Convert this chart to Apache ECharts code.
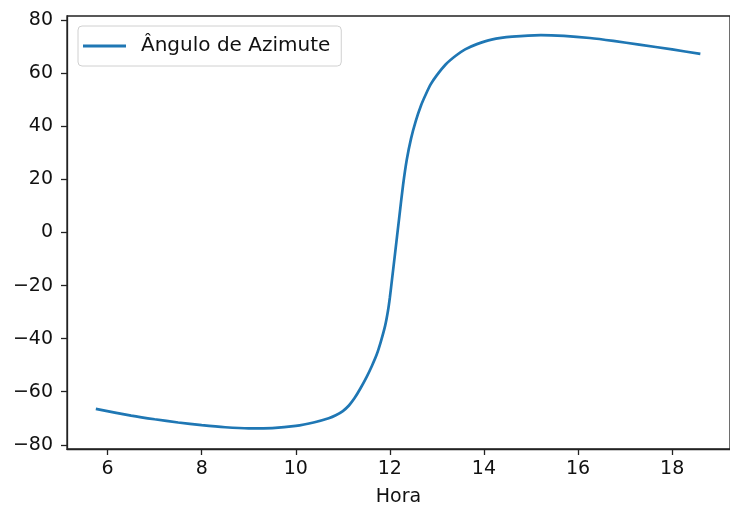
<!DOCTYPE html>
<html>
<head>
<meta charset="utf-8">
<script src="https://cdn.jsdelivr.net/npm/echarts@6/dist/echarts.min.js"></script>
<style>html,body{margin:0;padding:0;background:#fff}#c{width:730px;height:512px}</style>
</head>
<body>
<div id="c"></div>
<script>
const hours = [5.75, 6.5, 7.0, 7.5, 8.0, 8.5, 9.0, 9.5, 10.0, 10.4, 10.7, 10.85, 11.0, 11.13, 11.25, 11.37, 11.51, 11.62, 11.72, 11.81, 11.9, 11.96, 12.0, 12.05, 12.105, 12.2, 12.28, 12.36, 12.45, 12.55, 12.66, 12.77, 12.87, 13.0, 13.19, 13.4, 13.6, 13.85, 14.16, 14.6, 15.21, 15.7, 16.25, 16.75, 17.3, 18.0, 18.6];
const azimuth = [-66.5, -69.0, -70.4, -71.6, -72.6, -73.4, -73.8, -73.7, -72.9, -71.5, -70.0, -68.9, -67.3, -65.2, -62.4, -58.9, -54.3, -50.2, -46.0, -41.0, -35.1, -29.5, -24.5, -17.0, -8.7, 5.8, 17.8, 27.5, 35.4, 42.0, 47.8, 52.3, 55.9, 59.3, 63.4, 66.6, 69.0, 71.0, 72.7, 73.8, 74.4, 74.1, 73.3, 72.2, 70.8, 69.0, 67.3];
const xTicks = [6, 8, 10, 12, 14, 16, 18];
const yTicks = [-80, -60, -40, -20, 0, 20, 40, 60, 80];
const seriesName = 'Ângulo de Azimute';
const xName = 'Hora';

const FONT = 'DejaVu Sans';
const AX = '#222';
const chart = echarts.init(document.getElementById('c'), null, {renderer: 'canvas'});
chart.setOption({
  animation: false,
  grid: {left: 67, top: 16, width: 674, height: 438, show: true, borderColor: AX, borderWidth: 1.3, containLabel: false},
  legend: {
    left: 78, top: 26, orient: 'horizontal',
    padding: [10, 11, 10, 5],
    borderColor: '#d0d0d0', borderWidth: 1, borderRadius: 4,
    itemWidth: 43, itemHeight: 14,
    textStyle: {fontFamily: FONT, fontSize: 20, color: '#111', padding: [0, 0, 0, 10]},
    data: [{name: seriesName, icon: 'path://M0,0 L43,0 L43,3 L0,3 Z'}]
  },
  xAxis: {
    type: 'value', min: 5.137, max: 19.23,
    name: xName, nameLocation: 'middle', nameGap: 39,
    nameTextStyle: {fontFamily: FONT, fontSize: 19, color: '#111'},
    axisLine: {show: true, onZero: false, lineStyle: {color: AX, width: 1.3}},
    axisTick: {show: true, length: 6, lineStyle: {color: AX, width: 1.3}, customValues: xTicks},
    axisLabel: {fontFamily: FONT, fontSize: 19, color: '#111', margin: 11, customValues: xTicks},
    splitLine: {show: false}
  },
  yAxis: {
    type: 'value', min: -81.6, max: 81.6,
    axisLine: {show: true, onZero: false, lineStyle: {color: AX, width: 1.3}},
    axisTick: {show: true, length: 6, lineStyle: {color: AX, width: 1.3}, customValues: yTicks},
    axisLabel: {fontFamily: FONT, fontSize: 19, color: '#111', margin: 14, customValues: yTicks,
      formatter: v => (v < 0 ? '\u2212' + Math.abs(v) : String(v))},
    splitLine: {show: false}
  },
  series: [{
    name: seriesName, type: 'line',
    data: hours.map((h, i) => [h, azimuth[i]]),
    showSymbol: false, symbol: 'none', smooth: 0.25,
    lineStyle: {color: '#1f77b4', width: 2.7},
    itemStyle: {color: '#1f77b4'}
  }]
});
</script>
</body>
</html>
